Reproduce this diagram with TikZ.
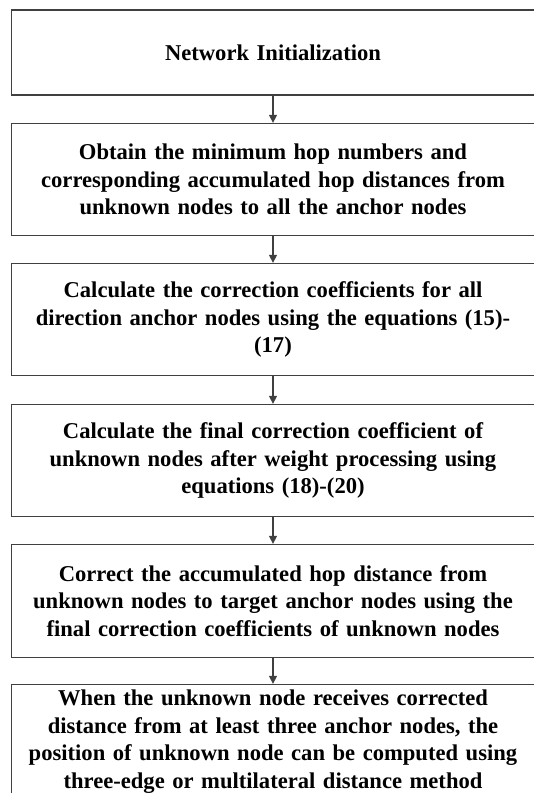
\documentclass[tikz,border=0pt]{standalone}
\usepackage{fontspec}
\setmainfont{Liberation Serif}
\usetikzlibrary{positioning, arrows.meta}

\begin{document}
\begin{tikzpicture}[x=1pt,y=1pt,
    stepbox/.style={draw=black!75, line width=1.3pt, minimum width=522.6pt, text width=510pt, align=center, inner sep=0pt, font=\fontsize{22.6}{27.7}\selectfont\bfseries},
    steparrow/.style={draw=black!75, line width=1.3pt, -{Triangle[length=8pt,width=8pt]}}]
        %cornice
        \useasboundingbox (0,0) rectangle (534,-793);
        \clip (0,0) rectangle (534,-793);
        %inizializzazione
        \node[stepbox, minimum height=85pt] (init) at (273,-52.5) {Network Initialization};
        %hop minimi
        \node[stepbox, minimum height=112pt] (hops) at (273,-179.5) {Obtain the minimum hop numbers and\\ corresponding accumulated hop distances from\\ unknown nodes to all the anchor nodes};
        %coefficienti di correzione
        \node[stepbox, minimum height=112pt] (coeff) at (273,-319.5) {Calculate the correction coefficients for all\\ direction anchor nodes using the equations (15)-\\ (17)};
        %coefficiente finale
        \node[stepbox, minimum height=112pt] (final) at (273,-460.5) {Calculate the final correction coefficient of\\ unknown nodes after weight processing using\\ equations (18)-(20)};
        %correzione distanza
        \node[stepbox, minimum height=113pt] (correct) at (273,-601) {Correct the accumulated hop distance from\\ unknown nodes to target anchor nodes using the\\ final correction coefficients of unknown nodes};
        %posizione
        \node[stepbox, minimum height=114pt] (position) at (273,-741.5) {When the unknown node receives corrected\\ distance from at least three anchor nodes, the\\ position of unknown node can be computed using\\ three-edge or multilateral distance method};
        %frecce
        \draw[steparrow] (init) -- (hops);
        \draw[steparrow] (hops) -- (coeff);
        \draw[steparrow] (coeff) -- (final);
        \draw[steparrow] (final) -- (correct);
        \draw[steparrow] (correct) -- (position);
    \end{tikzpicture}
\end{document}
